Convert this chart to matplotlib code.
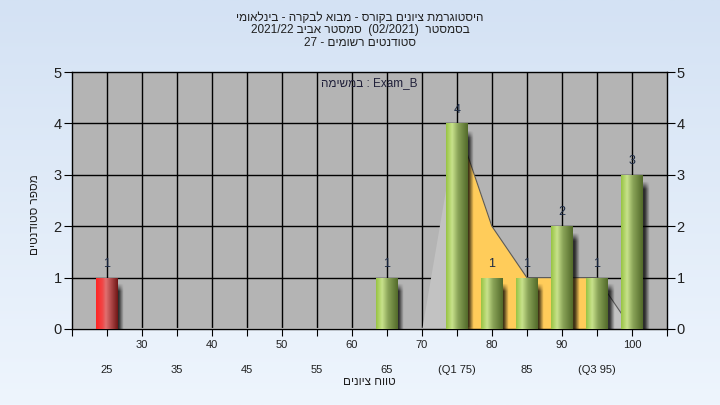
import re
import numpy as np
import matplotlib.pyplot as plt
from matplotlib.colors import to_rgb

plt.rcParams['font.family'] = ['Liberation Sans', 'DejaVu Sans']

# data
grades = [25, 65, 75, 80, 85, 90, 95, 100]
counts = [1, 1, 4, 1, 1, 2, 1, 3]

area_x = [20, 25, 30, 35, 40, 45, 50, 55, 60, 65, 70, 75, 80, 85, 90, 95, 100]
area_y = [0, 0, 0, 0, 0, 0, 0, 0, 0, 0, 0, 4, 2, 1, 1, 1, 0]
q1, q3 = 75, 95

upper_ticks = [30, 40, 50, 60, 70, 80, 90, 100]
lower_ticks = [25, 35, 45, 55, 65, 75, 85, 95]
lower_labels = ["25", "35", "45", "55", "65", "(Q1 75)", "85", "(Q3 95)"]

title_lines = ["היסטוגרמת ציונים בקורס - מבוא לבקרה - בינלאומי",
               "בסמסטר  (02/2021)  סמסטר אביב 2021/22",
               "סטודנטים רשומים - 27"]
task_word = "במשימה"
task_name = "Exam_B"
xlabel = "טווח ציונים"
ylabel = "מספר סטודנטים"


def to_visual(s):
    # matplotlib lays text out left to right, so put an RTL line in display order
    r = s[::-1].translate(str.maketrans("()", ")("))
    return re.sub(r"[0-9A-Za-z_/.]+", lambda m: m.group(0)[::-1], r)


def gradient(stops, n=64):
    pos = np.array([s[0] for s in stops])
    cols = np.array([to_rgb(s[1]) for s in stops])
    t = np.linspace(0, 1, n)
    out = np.stack([np.interp(t, pos, cols[:, i]) for i in range(3)], axis=-1)
    return out[np.newaxis, :, :]


green = gradient([(0, "#98c444"), (0.28, "#c8e28c"), (0.55, "#8aa458"), (1, "#526a2a")])
red = gradient([(0, "#ff2424"), (0.3, "#f04848"), (0.45, "#e07070"), (1, "#701616")])

fig = plt.figure(figsize=(7.2, 4.05), dpi=100)

# background gradient
bg = fig.add_axes([0, 0, 1, 1], zorder=-10)
bg_cols = np.linspace(np.array(to_rgb("#d4e2f4")), np.array(to_rgb("#eef5fd")), 200)
bg.imshow(bg_cols[:, np.newaxis, :], aspect="auto", extent=[0, 1, 0, 1])
bg.axis("off")

ax = fig.add_axes([71.5 / 720, 76 / 405, 595.5 / 720, 257 / 405])
ax.set_facecolor("#b4b4b4")

# grid
for g in range(25, 105, 5):
    ax.axvline(g, color="black", lw=1, zorder=1)
for v in range(1, 5):
    ax.axhline(v, color="black", lw=1, zorder=1)

# area series: grey outside quartiles, orange inside
ax_x = np.array(area_x)
ax_y = np.array(area_y)
ax.fill_between(ax_x, ax_y, 0, color="#c2c2c2", lw=0, zorder=2)
m = (ax_x >= q1) & (ax_x <= q3)
ax.fill_between(ax_x[m], ax_y[m], 0, color="#ffcc5a", lw=0, zorder=2.1)
k = ax_x >= q1
ax.plot(ax_x[k], ax_y[k], color="#5a5a5a", lw=0.8, zorder=2.2)
ax.plot(ax_x[ax_x <= 70], ax_y[ax_x <= 70] + 0.01, color="#c8c8c8", lw=0.8, zorder=2.2)

# bars with shadows
bw = 3.0
for g, c in zip(grades, counts):
    nx, ny = 40, 60
    sx0, sx1 = g - bw / 2 + 0.3, g + bw / 2 + 1.0
    sy0, sy1 = -0.12, c - 0.12
    xs = np.linspace(sx0, sx1, nx)
    ys = np.linspace(sy1, sy0, ny)
    fade_x = np.clip((sx1 - xs) / 0.7, 0, 1)
    fade_y = np.clip((ys - sy0) / 0.1, 0, 1) * np.clip((sy1 - ys) / 0.15, 0, 1)
    sh = np.zeros((ny, nx, 4))
    sh[..., 3] = np.outer(fade_y, fade_x) * 0.75
    ax.imshow(sh, extent=[sx0, sx1, sy0, sy1], aspect="auto", zorder=3,
              interpolation="bilinear")

    bars = ax.bar(g, c, width=bw, color="none", lw=0, zorder=4)
    img = ax.imshow(red if g < 55 else green, aspect="auto", zorder=4,
                    extent=[g - bw / 2, g + bw / 2, 0, c], interpolation="bilinear")
    img.set_clip_path(bars[0])
    ax.text(g, c + 0.27, str(c), ha="center", va="center", fontsize=9,
            color="#1c2a44", zorder=5)

ax.set_xlim(20, 105)
ax.set_ylim(0, 5)

ax.text(0.5, 0.955, to_visual(task_word) + " : " + task_name, transform=ax.transAxes,
        ha="center", va="center", fontsize=8.5, color="#20203a")

# axes styling
for s in ax.spines.values():
    s.set_color("black")
    s.set_linewidth(1)
ax.set_xticks(list(range(20, 110, 5)))
ax.set_xticklabels([])
ax.set_yticks(range(0, 6))
ax.tick_params(axis="y", which="both", direction="out", length=6, labelsize=10.5,
               left=True, right=True, labelleft=True, labelright=True, pad=1,
               labelcolor="#202020")
ax.tick_params(axis="x", direction="out", length=5, color="black")

tr = ax.get_xaxis_transform()
for t in upper_ticks:
    ax.text(t, -0.062, str(t), transform=tr, ha="center", va="center", fontsize=8,
            color="#202020")
for t, lab in zip(lower_ticks, lower_labels):
    ax.text(t, -0.16, lab, transform=tr, ha="center", va="center", fontsize=8,
            color="#202020")
ax.text(0.5, -0.208, to_visual(xlabel), transform=ax.transAxes, ha="center",
        va="center", fontsize=8.5, color="#202020")
fig.text(35 / 720, 1 - 215 / 405, to_visual(ylabel), rotation=90, ha="center",
         va="center", fontsize=8.5, color="#202020")

for i, line in enumerate(title_lines):
    fig.text(0.5, 1 - (18 + 12.5 * i) / 405, to_visual(line), ha="center",
             va="center", fontsize=8.5, color="#202020")

fig.savefig("out.png", dpi=100)
